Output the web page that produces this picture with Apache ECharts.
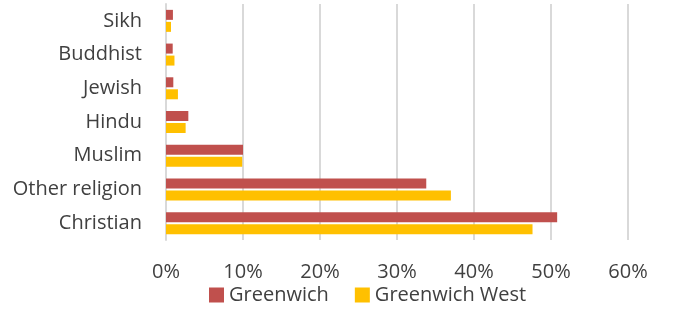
<!DOCTYPE html>
<html>
<head>
<meta charset="utf-8">
<script src="https://cdn.jsdelivr.net/npm/echarts@6/dist/echarts.min.js"></script>
<style>
  html, body { margin: 0; padding: 0; background: #fff; }
  #chart { width: 678px; height: 309px; }
</style>
</head>
<body>
<div id="chart"></div>
<script>
// religions, bottom to top
const categories = ['Christian', 'Other religion', 'Muslim', 'Hindu', 'Jewish', 'Buddhist', 'Sikh']
const greenwich = [50.8, 33.8, 10.0, 2.9, 0.95, 0.87, 0.9]
const greenwichWest = [47.6, 37.0, 9.9, 2.55, 1.55, 1.1, 0.65]
const seriesNames = ['Greenwich', 'Greenwich West']

const font = '"Open Sans", Lato, sans-serif'
const chart = echarts.init(document.getElementById('chart'))

chart.setOption({
  animation: false,
  textStyle: { fontFamily: font },
  legend: {
    data: seriesNames,
    bottom: -1,
    left: 204,
    itemWidth: 15,
    itemHeight: 15,
    itemGap: 26,
    icon: 'rect',
    textStyle: { fontSize: 20, color: '#404040', fontFamily: font }
  },
  grid: { left: 166, right: 50, top: 4, bottom: 69 },
  xAxis: {
    type: 'value',
    min: 0,
    max: 60,
    interval: 10,
    axisLine: { show: false },
    axisTick: { show: false },
    splitLine: { lineStyle: { color: '#d9d9d9', width: 2 } },
    axisLabel: { formatter: '{value}%', fontSize: 20, color: '#404040', margin: 22 }
  },
  yAxis: {
    type: 'category',
    data: categories,
    axisLine: { lineStyle: { color: '#d9d9d9', width: 2 } },
    axisTick: { show: false },
    axisLabel: { fontSize: 20, color: '#404040', margin: 24 }
  },
  series: [
    {
      name: seriesNames[0],
      type: 'bar',
      data: greenwich,
      barWidth: 10,
      barGap: '20%',
      itemStyle: { color: '#C0504D' }
    },
    {
      name: seriesNames[1],
      type: 'bar',
      data: greenwichWest,
      barWidth: 10,
      itemStyle: { color: '#FFC000' }
    }
  ]
})
</script>
</body>
</html>
